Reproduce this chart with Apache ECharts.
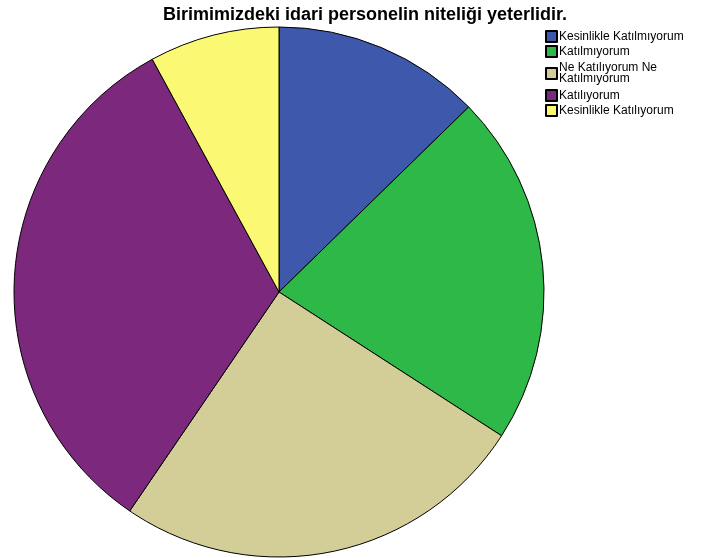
<!DOCTYPE html>
<html>
<head>
<meta charset="utf-8">
<script src="https://cdn.jsdelivr.net/npm/echarts@6/dist/echarts.min.js"></script>
<style>
  html, body { margin: 0; padding: 0; background: #fff; }
  #chart { width: 710px; height: 558px; }
</style>
</head>
<body>
<div id="chart"></div>
<script>
// yanıt kategorileri ve sayıları
const categories = ['Kesinlikle Katılmıyorum', 'Katılmıyorum', 'Ne Katılıyorum Ne\nKatılmıyorum', 'Katılıyorum', 'Kesinlikle Katılıyorum']
const counts = [16, 27, 32, 41, 10]
const colors = ['#3e58ac', '#2eb848', '#d3ce97', '#7c287d', '#fbf873']

const chart = echarts.init(document.getElementById('chart'))
chart.setOption({
  animation: false,
  backgroundColor: '#fff',
  title: {
    text: 'Birimimizdeki idari personelin niteliği yeterlidir.',
    left: 360,
    textAlign: 'center',
    top: 1,
    textStyle: { fontFamily: 'Liberation Sans', fontSize: 18, fontWeight: 'bold', color: '#000' }
  },
  legend: {
    orient: 'vertical',
    left: 540,
    top: 25,
    itemWidth: 11,
    itemHeight: 11,
    itemGap: 2,
    icon: 'rect',
    selectedMode: false,
    textStyle: { fontFamily: 'Liberation Sans', fontSize: 12, color: '#000', lineHeight: 11, padding: [0, 0, 0, -3] },
    data: categories.map(c => c.includes('\n')
      ? { name: c, textStyle: { padding: [4, 0, 1, -3] } }
      : c)
  },
  series: [
    {
      type: 'pie',
      center: [279, 292],
      radius: 265,
      startAngle: 90,
      clockwise: true,
      label: { show: false },
      labelLine: { show: false },
      emphasis: { disabled: true },
      itemStyle: { borderColor: '#000', borderWidth: 1 },
      data: categories.map((c, i) => ({
        name: c,
        value: counts[i],
        itemStyle: { color: colors[i] }
      }))
    }
  ]
})
</script>
</body>
</html>
